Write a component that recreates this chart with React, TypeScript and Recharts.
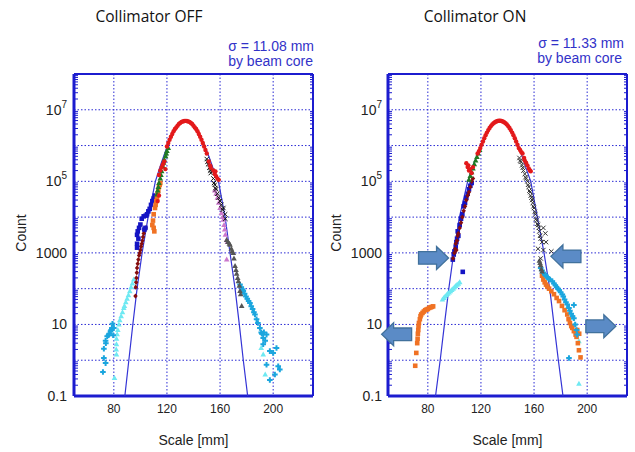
import {
  CartesianGrid,
  ReferenceDot,
  Scatter,
  ScatterChart,
  XAxis,
  YAxis,
} from "recharts";

type Pt = [number, number];

// axis ticks
const xTicks = [80, 120, 160, 200];
const xMinorTicks = [50, 60, 70, 80, 90, 100, 110, 120, 130, 140, 150, 160, 170, 180, 190, 200, 210, 220, 230];
const decadeTicks = [0.1, 1, 10, 100, 1000, 1e4, 1e5, 1e6, 1e7, 1e8];
const labelledTicks = [0.1, 10, 1000, 1e5, 1e7];
const minorSteps = [2, 3, 4, 5, 6, 7, 8, 9];
const yMinorTicks = decadeTicks.slice(0, -1).flatMap((d) => minorSteps.map((m) => d * m));

// ---------- Collimator OFF ----------
const fitOff: Pt[] = [
  [88.3, 0.1], [91.3, 1], [94.3, 10], [97.5, 100], [101.3, 1000], [105.8, 1e4], [111.3, 1e5],
  [116, 3.5e5], [120, 9e5], [124, 2e6], [128, 3.5e6], [131, 4.4e6], [134, 4.8e6], [137, 4.5e6],
  [140, 3.6e6], [144, 2.2e6], [148, 1.1e6], [152, 4.5e5], [155, 2.2e5], [158.8, 1e5],
  [163.8, 1e4], [167.5, 1000], [171.3, 100], [174.5, 10], [177.5, 1], [180.8, 0.1],
];
const redOff: Pt[] = [
  [120, 9.4e5], [121, 1.18e6], [122, 1.45e6], [123, 1.77e6], [124, 2.1e6], [125, 2.5e6], [126, 2.9e6],
  [127, 3.2e6], [128, 3.6e6], [129, 4e6], [130, 4.3e6], [131, 4.6e6], [132, 4.7e6], [133, 4.85e6],
  [134, 4.9e6], [135, 4.85e6], [136, 4.7e6], [137, 4.6e6], [138, 4.3e6], [139, 4e6], [140, 3.6e6],
  [141, 3.2e6], [142, 2.9e6], [143, 2.5e6], [144, 2.1e6], [145, 1.77e6], [146, 1.45e6], [147, 1.18e6],
  [148, 9.4e5], [149, 7.5e5], [150, 6e5],
  [115, 2e5], [116, 2.5e5], [117, 3e5], [118, 3.6e5], [118.8, 2.2e5], [114, 1.5e5], [113, 2.8e4], [114, 4e4],
  [151.5, 3.6e5], [152.5, 2.8e5], [153, 2.4e5], [155, 2e5], [156, 1.6e5], [157, 1.4e5], [158, 1.2e5],
  [159, 1.1e5], [156.5, 1.9e5],
];
const greenOff: Pt[] = [
  [112.5, 4.3e4], [113, 5.5e4], [113.5, 7e4], [114, 9e4], [115, 1.2e5], [115.5, 1.5e5], [116, 1.9e5],
  [117, 2.6e5], [117.5, 3.3e5], [118, 4e5], [119, 5e5], [119.5, 6e5], [120, 7e5], [121, 8.5e5],
];
const orangeOff: Pt[] = [
  [115, 9e4], [114.5, 8e4], [114, 7e4], [113.5, 5.5e4], [113, 4.5e4], [112.5, 3.5e4], [112, 2.8e4],
  [111.5, 2.2e4], [111, 1.8e4], [110, 1.2e4], [109.5, 8e3], [110, 5e3], [110.5, 4e3], [109, 6e3],
];
const blueOff: Pt[] = [
  [111, 4e4], [110, 3.3e4], [109, 2.8e4], [108, 2.2e4], [107, 1.7e4], [106, 1.45e4], [105, 1.2e4],
  [104, 1.1e4], [102.5, 1.05e4], [101, 9e3], [100, 6.2e3], [99, 5e3], [98, 4e3], [97.5, 3.2e3],
  [98.5, 2.5e3], [97.5, 1.8e3], [97.5, 1.4e3], [103.8, 5e3], [103, 4.5e3],
];
const maroonOff: Pt[] = [
  [104, 5e3], [103, 4.2e3], [102.5, 3.5e3], [102, 2.8e3], [101.5, 2.2e3], [101, 1.8e3], [100.5, 1.5e3],
  [100, 1.2e3], [99.5, 1e3], [99, 850], [98.5, 650], [98, 500], [97.5, 380], [97.3, 280], [97, 200],
  [96.8, 150], [96.5, 110], [96.3, 62],
];
const lightCyanOff: Pt[] = [
  [95, 180], [94, 140], [93, 110], [92, 85], [91, 65], [90, 52], [89, 42], [88, 33], [87.5, 29],
  [86.5, 22], [85.5, 17], [84.5, 13], [83.8, 10], [83, 7], [82.5, 5.3], [82, 4], [82, 2.8], [81.8, 2],
  [82, 1.45], [80.5, 0.32], [192.5, 1.45], [194, 0.4], [191, 2.2],
];
const skyOff: Pt[] = [
  [79, 10.5], [80, 8], [78.5, 8], [78, 7], [77.5, 6.5], [76.5, 5.5], [76, 5], [75, 4.7], [74, 3],
  [73.8, 3.5], [72.5, 2.1], [72.5, 1.15], [73.8, 0.83], [71.8, 0.47], [79.5, 5],
  [175, 130], [176, 110], [177, 95], [177.5, 86], [178.5, 72], [179.5, 60], [180.5, 52], [181.5, 45],
  [182.5, 40], [183.5, 32], [184.5, 27], [185.5, 22], [186.3, 19], [187.5, 14], [188.5, 11], [190, 8],
  [191, 6], [192.5, 4.2], [191.5, 5.5], [193, 6], [195, 5.2], [192.5, 2.8], [194, 3.5], [197.5, 1.8],
  [200, 1.6], [202.5, 2.2], [195, 0.75], [203.8, 0.68], [201.3, 0.4], [197.5, 0.28], [205, 0.55],
];
const blackOff: Pt[] = [
  [150, 4.2e5], [150.5, 3.5e5], [151, 3e5], [152, 2.4e5], [152.5, 2e5], [153, 1.7e5], [154, 1.9e5],
  [155, 1.2e5], [155.5, 9e4], [156, 8e4], [156.5, 6.5e4], [157, 6e4], [158, 4.5e4], [159, 3.5e4],
  [160, 2.8e4], [161, 2.2e4], [162, 1.6e4], [162.5, 1.8e4], [163.8, 1.2e4], [164, 9e3],
];
const violetOff: Pt[] = [
  [156, 5.5e4], [157, 4.5e4], [158, 3.5e4], [159, 2.5e4], [160, 1.8e4], [161, 1.3e4], [162, 1e4],
  [162.5, 8.5e3], [163, 6e3], [163.5, 4.5e3], [164, 3.2e3], [165, 2.3e3], [165.5, 2e3], [165, 650],
];
const grayOff: Pt[] = [
  [165, 2.3e3], [166, 2e3], [167, 1.8e3], [167.5, 1.7e3], [168.5, 1.3e3], [169, 1.1e3], [170, 1e3],
  [170.5, 700], [171.3, 430], [172, 330], [172.5, 260], [173.3, 200], [173.8, 160], [174.5, 120],
  [175, 86], [175.5, 70], [176.3, 33],
];

// ---------- Collimator ON ----------
const fitOn: Pt[] = [
  [85.8, 0.1], [89.3, 1], [92.5, 10], [95.8, 100], [99.5, 1000], [103.8, 1e4], [110, 1e5],
  [115, 3.5e5], [120, 9e5], [124, 2e6], [128, 3.5e6], [131, 4.4e6], [134, 4.8e6], [137, 4.5e6],
  [140, 3.6e6], [144, 2.2e6], [148, 1.1e6], [151, 5e5], [154, 2.3e5], [157.5, 1e5],
  [162.5, 1e4], [167.5, 1000], [171.8, 100], [175, 10], [178.3, 1], [181.8, 0.1],
];
const redOn: Pt[] = [
  [117.5, 6e5], [118.5, 7e5], [119.5, 8.5e5], [120.5, 1.05e6], [121.5, 1.3e6], [122.5, 1.6e6],
  [123.5, 1.95e6], [124.5, 2.3e6], [125.5, 2.7e6], [126.5, 3.1e6], [127.5, 3.5e6], [128.5, 3.9e6],
  [129.5, 4.2e6], [130.5, 4.5e6], [131.5, 4.7e6], [132.5, 4.85e6], [133.5, 4.95e6], [134.5, 4.95e6],
  [135.5, 4.85e6], [136.5, 4.7e6], [137.5, 4.5e6], [138.5, 4.2e6], [139.5, 3.9e6], [140.5, 3.5e6],
  [141.5, 3.1e6], [142.5, 2.7e6], [143.5, 2.3e6], [144.5, 1.95e6], [145.5, 1.6e6], [146.5, 1.3e6],
  [147.5, 1.05e6], [148.5, 8.5e5], [149.5, 7.5e5], [150.5, 6.5e5], [151.3, 6e5],
  [109, 3.2e5], [110, 2.5e5], [110.5, 2.8e5], [111, 2e5], [112, 2.2e5], [113, 1.7e5], [114, 2.5e5],
  [152.5, 4.5e5], [153, 3.8e5], [154, 3.3e5], [155, 2.8e5], [156, 2.3e5], [157, 2e5], [157.5, 1.9e5],
];
const greenOn: Pt[] = [
  [111, 1.1e5], [112, 1.4e5], [113, 1.8e5], [114, 2.3e5], [115, 3e5], [116, 3.8e5], [117, 4.8e5],
  [118, 6e5], [119, 7.5e5],
];
const blueOn: Pt[] = [
  [98.8, 650], [99.5, 900], [100, 1100], [101, 1500], [101.5, 2e3], [102, 2.5e3], [102.5, 4e3],
  [103, 3e3], [104, 6e3], [105, 9e3], [106, 1.2e4], [107, 2e4], [108, 2.5e4], [109, 3.5e4],
  [110, 4.5e4], [111, 6e4], [112, 7.5e4], [113, 9e4], [106.3, 295],
];
const maroonOn: Pt[] = [
  [99, 700], [100, 1000], [100.5, 1300], [101, 1800], [101.5, 1200], [102, 2200], [102.5, 3000],
  [103, 3500], [104, 5000], [105, 7000], [106, 1e4], [107, 1.5e4], [108, 2e4], [109, 3e4],
  [110, 4e4], [111, 5e4], [112, 7e4], [113, 1e5], [114, 1.2e5],
];
const lightCyanOn: Pt[] = [
  [91, 50], [92, 55], [93, 60], [94, 66], [95, 72], [96, 78], [97, 85], [98, 92], [99, 100],
  [100, 110], [101, 118], [102, 128], [103, 138], [104, 150],
  [185, 30], [187, 22], [189, 15], [190.5, 10], [192, 7], [193.8, 3.4], [193.8, 0.22],
];
const orangeOn: Pt[] = [
  [70.5, 0.7], [71.3, 1.6], [72, 3], [72.3, 4], [72.5, 5.5], [72.8, 7], [73, 9], [73.3, 11],
  [74, 14], [74.5, 17], [75, 19], [76, 21], [77, 23], [78, 25], [79, 26], [80, 27], [81, 29],
  [82, 30], [83, 31], [84, 32],
  [166, 230], [167, 180], [168, 150], [169, 130], [170, 115], [171.3, 100], [173, 85], [175, 70],
  [177, 55], [178.8, 45], [181, 33], [183, 25], [185, 19], [186, 14], [187, 11], [188, 9],
  [188.8, 8], [190, 6.5], [191.3, 5.2], [192, 4.5], [193, 3], [193.8, 1.9], [195, 1.2],
  [194, 5.5], [192.5, 7],
];
const skyOn: Pt[] = [
  [165, 380], [166, 320], [167, 280], [168, 250], [169, 230], [170, 210], [171, 190], [172, 180],
  [173.8, 160], [175, 140], [176, 125], [177, 110], [178, 100], [179, 90], [180, 80], [181.3, 69],
  [182, 60], [183, 50], [184, 42], [185, 36], [186.3, 29], [187, 24], [188, 20], [189, 17],
  [190, 15], [191, 10], [192, 7], [192.5, 5.2], [190, 35], [186.3, 1.15],
];
const blackOn: Pt[] = [
  [149, 4.5e5], [149.5, 3.8e5], [150, 3.5e5], [151, 2.8e5], [151.5, 2.4e5], [152, 2e5], [153, 1.6e5],
  [153.5, 1.3e5], [154, 1.2e5], [155, 1e5], [155.5, 8e4], [156, 7e4], [156.5, 5.5e4], [157, 5e4],
  [157.5, 4e4], [158, 3.5e4], [158.5, 3e4], [159, 2.5e4], [159.5, 2e4], [160, 1.8e4], [160.5, 1.4e4],
  [161, 1.2e4], [161.5, 9e3], [162, 8e3], [162.5, 6.5e3], [163, 6e3], [163.5, 5e3], [164, 4e3],
  [164.5, 3e3], [165, 2.5e3], [166, 2e3], [163, 1.3e3], [167, 5e3], [168.5, 3.5e3], [169, 2e3],
  [173, 1.1e3], [167, 1.2e3], [165, 700],
];
const grayOn: Pt[] = [[164, 600], [164.5, 520], [165, 450], [165.5, 350], [166, 300]];

// arrows marking the halo region (Collimator ON)
const arrowsOn = [
  { x: 84.3, y: 724, dir: 1 },
  { x: 184, y: 800, dir: -1 },
  { x: 56.5, y: 5.3, dir: -1 },
  { x: 210.3, y: 8.9, dir: 1 },
];

const FRAME = "#1c1ccf";
const GRID = "#2a2ad4";
const FIT = "#3434d6";
const FONT = "'Liberation Sans', Arial, sans-serif";

const toXY = (a: Pt[]) => a.map(([x, y]) => ({ x, y }));

function marker(kind: string, color: string) {
  return (p: any) => {
    const { cx, cy } = p;
    if (cx == null || cy == null) return <g />;
    switch (kind) {
      case "circle":
        return <circle cx={cx} cy={cy} r={2.2} fill={color} />;
      case "square":
        return <rect x={cx - 2.3} y={cy - 2.3} width={4.6} height={4.6} fill={color} />;
      case "triangle":
        return (
          <polygon
            points={`${cx},${cy - 3} ${cx + 2.8},${cy + 2} ${cx - 2.8},${cy + 2}`}
            fill={color}
          />
        );
      case "diamond":
        return (
          <polygon
            points={`${cx},${cy - 2.6} ${cx + 2.2},${cy} ${cx},${cy + 2.6} ${cx - 2.2},${cy}`}
            fill={color}
          />
        );
      case "plus":
        return (
          <path
            d={`M${cx - 2.8},${cy}H${cx + 2.8}M${cx},${cy - 2.8}V${cy + 2.8}`}
            stroke={color}
            strokeWidth={2}
          />
        );
      case "x":
        return (
          <path
            d={`M${cx - 2.2},${cy - 2.2}L${cx + 2.2},${cy + 2.2}M${cx + 2.2},${cy - 2.2}L${cx - 2.2},${cy + 2.2}`}
            stroke={color}
            strokeWidth={1}
          />
        );
      default:
        return <g />;
    }
  };
}

function BlockArrow(props: any) {
  const { cx, cy, dir } = props;
  if (cx == null || cy == null) return <g />;
  const pts = [
    [-15, -6.3], [3, -6.3], [3, -11.5], [15, 0], [3, 11.5], [3, 6.3], [-15, 6.3],
  ]
    .map(([dx, dy]) => `${cx + dx * dir},${cy + dy}`)
    .join(" ");
  return <polygon points={pts} fill="#5b8bc6" stroke="#41719c" strokeWidth={1.3} />;
}

function YTick(props: any) {
  const { x, y, payload } = props;
  const v = payload?.value;
  if (!labelledTicks.includes(v)) return <g />;
  const common = { x, y, dy: 5, textAnchor: "end" as const, fill: "#222", fontSize: 14, fontFamily: FONT };
  if (v >= 1e5) {
    const exp = Math.round(Math.log10(v));
    return (
      <text {...common}>
        <tspan>10</tspan>
        <tspan dy={-7} fontSize={10}>
          {exp}
        </tspan>
      </text>
    );
  }
  return <text {...common}>{String(v)}</text>;
}

function XTick(props: any) {
  const { x, y, payload } = props;
  return (
    <text x={x} y={y} dy="0.71em" textAnchor="middle" fill="#222" fontSize={12} fontFamily={FONT}>
      {payload.value}
    </text>
  );
}

const noTick = () => <g />;

type Series = { data: Pt[]; kind: string; color: string };

type PanelProps = {
  width: number;
  yAxisWidth: number;
  tickMarginY: number;
  fit: Pt[];
  series: Series[];
  arrows?: { x: number; y: number; dir: number }[];
};

function Panel({ width, yAxisWidth, tickMarginY, fit, series, arrows = [] }: PanelProps) {
  const right = width - yAxisWidth - 239;
  return (
    <ScatterChart width={width} height={452} margin={{ top: 74, right, bottom: 0, left: 0 }}>
      <CartesianGrid stroke={GRID} strokeDasharray="1.5 2" strokeWidth={1} />
      <XAxis
        dataKey="x"
        type="number"
        domain={[50, 230]}
        ticks={xTicks}
        allowDataOverflow
        height={56}
        tickSize={0}
        tickMargin={8}
        tickLine={false}
        tick={<XTick />}
        axisLine={{ stroke: FRAME, strokeWidth: 3 }}
        label={(p: any) => {
          const vb = p.viewBox || { x: 0, y: 0, width: 0 };
          return (
            <text x={vb.x + vb.width / 2} y={vb.y + 49} textAnchor="middle" fill="#222" fontSize={14} fontFamily={FONT}>
              Scale [mm]
            </text>
          );
        }}
      />
      <XAxis
        xAxisId="top"
        orientation="top"
        mirror
        type="number"
        domain={[50, 230]}
        ticks={xMinorTicks}
        interval={0}
        allowDataOverflow
        tick={noTick}
        tickSize={4}
        tickLine={{ stroke: FRAME }}
        axisLine={{ stroke: FRAME, strokeWidth: 2 }}
      />
      <XAxis
        xAxisId="bottomMinor"
        orientation="bottom"
        mirror
        type="number"
        domain={[50, 230]}
        ticks={xMinorTicks}
        interval={0}
        allowDataOverflow
        tick={noTick}
        tickSize={4}
        tickLine={{ stroke: FRAME }}
        axisLine={false}
      />
      <YAxis
        dataKey="y"
        type="number"
        scale="log"
        domain={[0.1, 1e8]}
        ticks={decadeTicks}
        interval={0}
        allowDataOverflow
        width={yAxisWidth}
        tickSize={0}
        tickMargin={tickMarginY}
        tickLine={false}
        tick={<YTick />}
        axisLine={{ stroke: FRAME, strokeWidth: 3 }}
        label={(p: any) => {
          const vb = p.viewBox || { x: 0, y: 0, height: 0 };
          const cy = vb.y + vb.height / 2 - 2;
          return (
            <text
              x={26}
              y={cy}
              transform={`rotate(-90 26 ${cy})`}
              textAnchor="middle"
              fill="#222"
              fontSize={14}
              fontFamily={FONT}
            >
              Count
            </text>
          );
        }}
      />
      <YAxis
        yAxisId="minor"
        orientation="left"
        mirror
        type="number"
        scale="log"
        domain={[0.1, 1e8]}
        ticks={yMinorTicks}
        interval={0}
        allowDataOverflow
        tick={noTick}
        tickSize={4}
        tickLine={{ stroke: FRAME }}
        axisLine={false}
      />
      <YAxis
        yAxisId="right"
        orientation="right"
        mirror
        type="number"
        scale="log"
        domain={[0.1, 1e8]}
        ticks={yMinorTicks}
        interval={0}
        allowDataOverflow
        tick={noTick}
        tickSize={3}
        tickLine={{ stroke: FRAME }}
        axisLine={{ stroke: FRAME, strokeWidth: 2 }}
      />

      <Scatter
        data={toXY(fit)}
        line={{ stroke: FIT, strokeWidth: 1.2 }}
        lineJointType="linear"
        shape={marker("none", FIT)}
        isAnimationActive={false}
      />
      {series.map((s, i) => (
        <Scatter key={i} data={toXY(s.data)} shape={marker(s.kind, s.color)} isAnimationActive={false} />
      ))}
      {arrows.map((a, i) => (
        <ReferenceDot
          key={`arrow-${i}`}
          x={a.x}
          y={a.y}
          ifOverflow="visible"
          shape={(p: any) => <BlockArrow {...p} dir={a.dir} />}
        />
      ))}
    </ScatterChart>
  );
}

const offSeries: Series[] = [
  { data: lightCyanOff, kind: "triangle", color: "#6ee9f2" },
  { data: skyOff, kind: "plus", color: "#1ba6de" },
  { data: maroonOff, kind: "diamond", color: "#850d0d" },
  { data: blueOff, kind: "square", color: "#1414c4" },
  { data: orangeOff, kind: "square", color: "#f07224" },
  { data: greenOff, kind: "triangle", color: "#1f7a22" },
  { data: violetOff, kind: "triangle", color: "#cc78cc" },
  { data: grayOff, kind: "triangle", color: "#555555" },
  { data: blackOff, kind: "x", color: "#111111" },
  { data: redOff, kind: "circle", color: "#e3191b" },
];

const onSeries: Series[] = [
  { data: lightCyanOn, kind: "triangle", color: "#6ee9f2" },
  { data: orangeOn, kind: "square", color: "#f07224" },
  { data: skyOn, kind: "plus", color: "#1ba6de" },
  { data: blueOn, kind: "square", color: "#1414c4" },
  { data: maroonOn, kind: "diamond", color: "#850d0d" },
  { data: greenOn, kind: "triangle", color: "#1f7a22" },
  { data: grayOn, kind: "triangle", color: "#555555" },
  { data: blackOn, kind: "x", color: "#333333" },
  { data: redOn, kind: "circle", color: "#e3191b" },
];

export default function App() {
  return (
    <div style={{ position: "absolute", left: 0, top: 0, width: 635, height: 452, background: "#fff" }}>
      <div style={{ position: "absolute", left: 0, top: 0 }}>
        <Panel width={317} yAxisWidth={74} tickMarginY={7} fit={fitOff} series={offSeries} />
      </div>
      <div style={{ position: "absolute", left: 315, top: 0 }}>
        <Panel width={320} yAxisWidth={73} tickMarginY={6} fit={fitOn} series={onSeries} arrows={arrowsOn} />
      </div>
      <svg
        width={635}
        height={452}
        style={{ position: "absolute", left: 0, top: 0, pointerEvents: "none" }}
      >
        <text x={149} y={22} textAnchor="middle" fill="#111" fontSize={15.5} fontFamily="'Open Sans', sans-serif">
          Collimator OFF
        </text>
        <text x={475} y={22} textAnchor="middle" fill="#111" fontSize={15.5} fontFamily="'Open Sans', sans-serif">
          Collimator ON
        </text>
        <g fill="#3232c8" fontSize={14} fontFamily={FONT} textAnchor="end">
          <text x={314} y={51}>σ = 11.08 mm</text>
          <text x={313} y={66}>by beam core</text>
          <text x={624} y={48}>σ = 11.33 mm</text>
          <text x={622} y={63}>by beam core</text>
        </g>
      </svg>
    </div>
  );
}
